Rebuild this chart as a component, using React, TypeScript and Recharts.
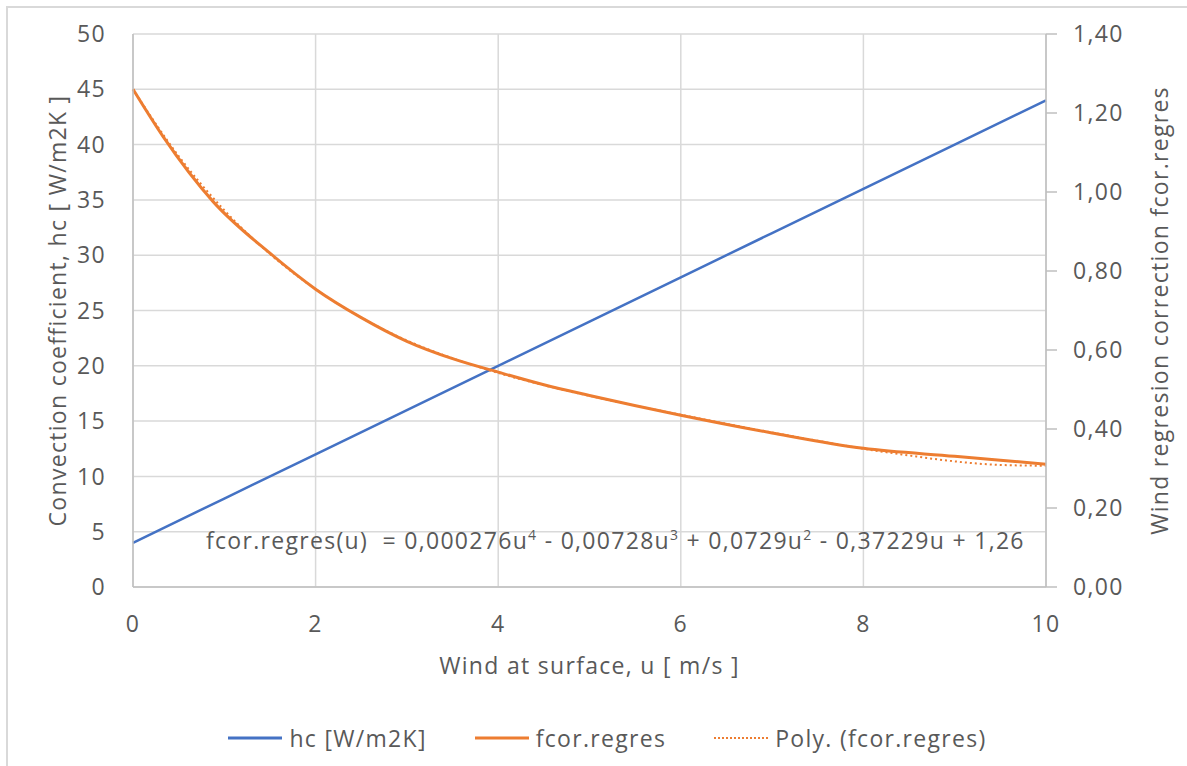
import React from "react";
import { LineChart, Line, XAxis, YAxis, CartesianGrid } from "recharts";

// wind speed u [m/s] and series
const hcU = [0, 1, 2, 3, 4, 5, 6, 7, 8, 9, 10];
const hcValues = [4, 8, 12, 16, 20, 24, 28, 32, 36, 40, 44];

const fcorU = [0, 0.33, 0.88, 1.5, 2, 2.5, 3, 3.5, 4, 4.5, 5, 6, 7, 8, 9, 10];
const fcorValues = [1.26, 1.14, 0.975, 0.845, 0.754, 0.682, 0.622, 0.578, 0.544, 0.512, 0.485, 0.435, 0.39, 0.351, 0.331, 0.311];

const polyU = [0, 0.5, 1, 1.5, 2, 2.5, 3, 3.5, 4, 4.5, 5, 5.5, 6, 6.5, 7, 7.5, 8, 8.5, 9, 9.5, 10];
const polyValues = [1.26, 1.091, 0.954, 0.843, 0.754, 0.682, 0.624, 0.579, 0.542, 0.511, 0.484, 0.459, 0.436, 0.413, 0.391, 0.37, 0.35, 0.333, 0.318, 0.309, 0.307];

const xTicks = [0, 2, 4, 6, 8, 10];
const leftTicks = [0, 5, 10, 15, 20, 25, 30, 35, 40, 45, 50];
const rightTicks = [0, 0.2, 0.4, 0.6, 0.8, 1.0, 1.2, 1.4];

const hcData = hcU.map((u, i) => ({ u, hc: hcValues[i] }));
const fcorData = fcorU.map((u, i) => ({ u, fcor: fcorValues[i] }));
const polyData = polyU.map((u, i) => ({ u, poly: polyValues[i] }));

const BLUE = "#4472C4";
const ORANGE = "#ED7D31";
const TXT = "#595959";
const GRID = "#d9d9d9";
const AXIS = "#bfbfbf";
const FONT = "'Open Sans', 'DejaVu Sans', sans-serif";
const FS = 23;
const LS = 1.3;

const txt = { fill: TXT, fontSize: FS, fontFamily: FONT, letterSpacing: LS };
const comma = (v: number) => v.toFixed(2).replace(".", ",");

export default function App() {
  return (
    <div style={{ position: "absolute", left: 0, top: 0, width: 1187, height: 766, overflow: "hidden", background: "#fff", fontFamily: FONT }}>
      <div style={{ position: "absolute", left: 6, top: 6, width: 1300, height: 900, border: `2px solid ${GRID}`, boxSizing: "border-box" }} />
      <LineChart
        width={1187}
        height={766}
        margin={{ top: 34, right: 0, left: 0, bottom: 99 }}
        style={{ position: "absolute", left: 0, top: 0 }}
      >
        <CartesianGrid yAxisId="left" stroke={GRID} strokeWidth={1.5} />
        <XAxis
          dataKey="u"
          type="number"
          domain={[0, 10]}
          ticks={xTicks}
          allowDuplicatedCategory={false}
          height={80}
          stroke={AXIS}
          strokeWidth={1.5}
          tickLine={false}
          tickSize={0}
          tickMargin={29}
          tick={txt}
          label={{ value: "Wind at surface, u [ m/s ]", position: "bottom", offset: -9, ...txt }}
        />
        <YAxis
          yAxisId="left"
          domain={[0, 50]}
          ticks={leftTicks}
          width={133}
          stroke={AXIS}
          strokeWidth={1.5}
          tickLine={false}
          tickSize={0}
          tickMargin={27}
          tick={txt}
          label={{ value: "Convection coefficient, hc [ W/m2K ]", angle: -90, position: "insideLeft", offset: 58, ...txt, style: { textAnchor: "middle" } }}
        />
        <YAxis
          yAxisId="right"
          orientation="right"
          domain={[0, 1.4]}
          ticks={rightTicks}
          width={141}
          stroke={AXIS}
          strokeWidth={1.5}
          tickSize={11}
          tickMargin={16}
          tickFormatter={comma}
          tick={txt}
          label={{ value: "Wind regresion correction fcor.regres", angle: -90, position: "insideRight", offset: 27, ...txt, style: { textAnchor: "middle" } }}
        />
        <Line yAxisId="left" data={hcData} dataKey="hc" type="linear" stroke={BLUE} strokeWidth={2.5} dot={false} isAnimationActive={false} />
        <Line yAxisId="right" data={polyData} dataKey="poly" type="monotone" stroke={ORANGE} strokeWidth={2} strokeDasharray="2 3" dot={false} isAnimationActive={false} />
        <Line yAxisId="right" data={fcorData} dataKey="fcor" type="monotone" stroke={ORANGE} strokeWidth={3} dot={false} isAnimationActive={false} />
      </LineChart>

      <div style={{ position: "absolute", left: 206, top: 526, fontSize: FS, letterSpacing: LS, color: TXT, whiteSpace: "pre", lineHeight: "28px" }}>
        fcor.regres(u)  = 0,000276u<sup style={{ fontSize: 14, lineHeight: 0 }}>4</sup> - 0,00728u<sup style={{ fontSize: 14, lineHeight: 0 }}>3</sup> + 0,0729u<sup style={{ fontSize: 14, lineHeight: 0 }}>2</sup> - 0,37229u + 1,26
      </div>

      <div style={{ position: "absolute", left: 14, top: 722, width: 1187, display: "flex", justifyContent: "center", alignItems: "center", fontSize: FS, letterSpacing: LS, color: TXT }}>
        <LegendItem color={BLUE} label="hc [W/m2K]" />
        <LegendItem color={ORANGE} label="fcor.regres" />
        <LegendItem color={ORANGE} label="Poly. (fcor.regres)" dotted />
      </div>
    </div>
  );
}

function LegendItem({ color, label, dotted }: { color: string; label: string; dotted?: boolean }) {
  return (
    <div style={{ display: "flex", alignItems: "center", margin: "0 24px" }}>
      <svg width={54} height={6} style={{ marginRight: 7 }}>
        <line x1={0} y1={3} x2={54} y2={3} stroke={color} strokeWidth={dotted ? 2 : 3} strokeDasharray={dotted ? "2 2" : undefined} />
      </svg>
      <span>{label}</span>
    </div>
  );
}
